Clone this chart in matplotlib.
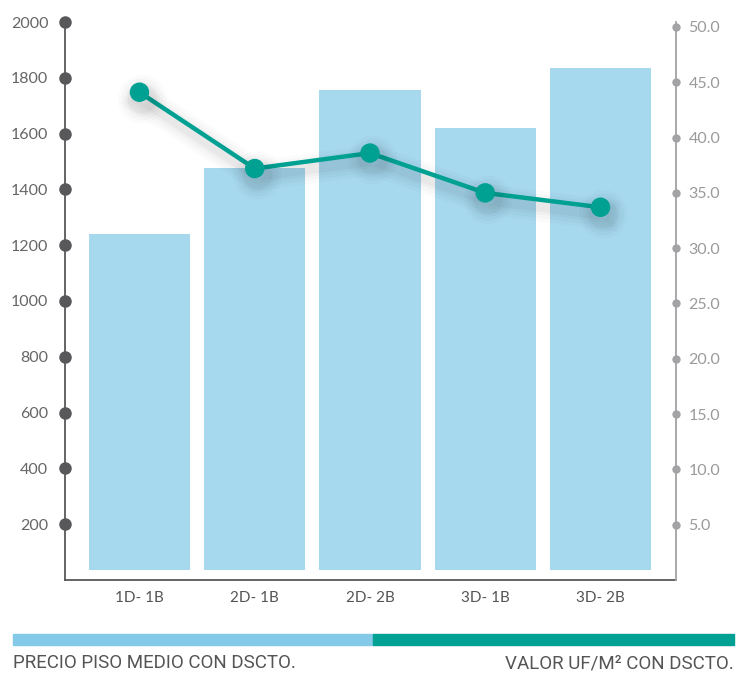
import numpy as np
import matplotlib
matplotlib.use("Agg")
import matplotlib.pyplot as plt
from matplotlib import patheffects as pe

categories = ["1D- 1B", "2D- 1B", "2D- 2B", "3D- 1B", "3D- 2B"]
precio = [1240, 1477, 1756, 1620, 1835]
valor_uf = [44.1, 37.2, 38.6, 35.0, 33.7]
left_ticks = [200, 400, 600, 800, 1000, 1200, 1400, 1600, 1800, 2000]
right_ticks = [5, 10, 15, 20, 25, 30, 35, 40, 45, 50]

bar_color = "#a6d8ee"
line_color = "#00a193"
dark = "#58585a"
light = "#a3a3a5"

plt.rcParams["font.family"] = ["Lato", "DejaVu Sans"]

fig = plt.figure(figsize=(7.47, 6.73), dpi=100)
W, H = 747, 673
ax = fig.add_axes([65 / W, 1 - 580 / H, (676 - 65) / W, (580 - 22) / H])

x = np.arange(len(categories))
base = 35
ax.bar(x, np.array(precio) - base, bottom=base, width=0.88, color=bar_color, zorder=1)
ax.set_xlim(-0.646, 4.655)
ax.set_ylim(0, 2000)

for s in ["top", "right"]:
    ax.spines[s].set_visible(False)
ax.spines["left"].set_color(dark)
ax.spines["bottom"].set_color(dark)
ax.spines["left"].set_linewidth(1.3)
ax.spines["bottom"].set_linewidth(1.3)

ax.set_yticks(left_ticks)
ax.set_yticklabels([str(v) for v in left_ticks])
ax.tick_params(axis="y", length=0, pad=12, labelsize=11.5, labelcolor="#666666")
ax.plot(np.zeros(len(left_ticks)) + ax.get_xlim()[0], left_ticks, "o", color=dark,
        markersize=8, clip_on=False, zorder=5)

ax.set_xticks(x)
ax.set_xticklabels(categories)
ax.tick_params(axis="x", length=0, pad=8, labelsize=11, labelcolor="#555555")

ax2 = ax.twinx()
ax2.set_ylim(0, 50.45)
ax2.set_xlim(ax.get_xlim())
for s in ["top", "left", "bottom"]:
    ax2.spines[s].set_visible(False)
ax2.spines["right"].set_color(light)
ax2.spines["right"].set_linewidth(1.3)
ax2.set_yticks(right_ticks)
ax2.set_yticklabels([f"{v:.1f}" for v in right_ticks])
ax2.tick_params(axis="y", length=0, pad=9, labelsize=11.5, labelcolor="#9a9a9c")
ax2.plot(np.zeros(len(right_ticks)) + ax.get_xlim()[1], right_ticks, "o", color=light,
         markersize=5, clip_on=False, zorder=5)

# soft drop shadow under the line, built from a few faint widened strokes
shadow = [pe.SimpleLineShadow(offset=(2, -5), shadow_color="black", alpha=a, linewidth=lw)
          for a, lw in [(0.015, 22), (0.018, 17), (0.022, 12), (0.03, 8)]]
ax2.plot(x, valor_uf, color=line_color, linewidth=3.2, marker="o", markersize=13,
         zorder=4, path_effects=shadow + [pe.Normal()])

# footer legend strips
fig.patches.append(plt.Rectangle((13 / W, 1 - 645 / H), (373 - 13) / W, 11 / H,
                                 transform=fig.transFigure, color="#85c9e8"))
fig.patches.append(plt.Rectangle((373 / W, 1 - 645 / H), (734 - 373) / W, 11 / H,
                                 transform=fig.transFigure, color=line_color))
foot = ["Roboto", "DejaVu Sans"]
fig.text(13 / W, 1 - 663 / H, "PRECIO PISO MEDIO CON DSCTO.", ha="left", va="center",
         fontsize=13.5, color="#555555", family=foot)
fig.text(734 / W, 1 - 663 / H, "VALOR UF/M² CON DSCTO.", ha="right", va="center",
         fontsize=13.5, color="#555555", family=foot)

fig.savefig("out.png", dpi=100)
